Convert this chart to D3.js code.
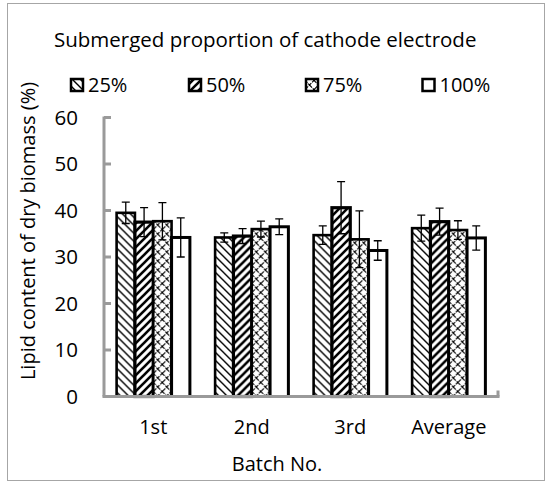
<!DOCTYPE html>
<html>
<head>
<meta charset="utf-8">
<script src="https://cdn.jsdelivr.net/npm/d3@7"></script>
<style>
  body { margin: 0; background: #fff; }
  text { font-family: "Open Sans", sans-serif; fill: #000; }
</style>
</head>
<body>
<div id="chart"></div>
<script>
////////////////////////////////////////////////////////////
//////////////////////// Data //////////////////////////////
////////////////////////////////////////////////////////////

var batches = ["1st", "2nd", "3rd", "Average"];
var proportions = ["25%", "50%", "75%", "100%"];

//Lipid content (%) per proportion, one value per batch
var lipid25 = [39.5, 34.2, 34.7, 36.2],
	lipid50 = [37.5, 34.5, 40.6, 37.6],
	lipid75 = [37.7, 36.0, 33.8, 35.8],
	lipid100 = [34.2, 36.5, 31.4, 34.1];

//Standard deviations
var err25 = [2.3, 1.0, 2.0, 2.8],
	err50 = [3.1, 1.6, 5.6, 2.9],
	err75 = [4.0, 1.7, 6.1, 2.0],
	err100 = [4.2, 1.7, 2.1, 2.6];

var yTicks = [0, 10, 20, 30, 40, 50, 60];

var values = [lipid25, lipid50, lipid75, lipid100],
	errors = [err25, err50, err75, err100];

////////////////////////////////////////////////////////////
//////////////////////// Setup /////////////////////////////
////////////////////////////////////////////////////////////

var width = 550, height = 486;
var plot = {left: 104, right: 498, top: 117.5, bottom: 396.5};
var axisColor = "#9a9a9a";

var svg = d3.select("#chart").append("svg")
	.attr("width", width)
	.attr("height", height);

//Outer frame
svg.append("rect")
	.attr("x", 7.5).attr("y", 3.5)
	.attr("width", 537).attr("height", 477)
	.style("fill", "none")
	.style("stroke", "#a6a6a6")
	.style("stroke-width", 1);

////////////////////////////////////////////////////////////
/////////////////////// Patterns ///////////////////////////
////////////////////////////////////////////////////////////

var defs = svg.append("defs");

//25% - thin backward diagonals
var p1 = defs.append("pattern")
	.attr("id", "pat-25")
	.attr("patternUnits", "userSpaceOnUse")
	.attr("width", 8).attr("height", 8);
p1.append("rect").attr("width", 8).attr("height", 8).style("fill", "#fff");
p1.append("path")
	.attr("d", "M0,0 L8,8 M-4,4 L4,12 M4,-4 L12,4")
	.style("stroke", "#000").style("stroke-width", 1.4);

//50% - thick forward diagonals
var p2 = defs.append("pattern")
	.attr("id", "pat-50")
	.attr("patternUnits", "userSpaceOnUse")
	.attr("width", 8).attr("height", 8);
p2.append("rect").attr("width", 8).attr("height", 8).style("fill", "#fff");
p2.append("path")
	.attr("d", "M0,8 L8,0 M-4,4 L4,-4 M4,12 L12,4")
	.style("stroke", "#000").style("stroke-width", 2.6);

//75% - dotted diamonds
var p3 = defs.append("pattern")
	.attr("id", "pat-75")
	.attr("patternUnits", "userSpaceOnUse")
	.attr("width", 9).attr("height", 9);
p3.append("rect").attr("width", 9).attr("height", 9).style("fill", "#fff");
p3.append("path")
	.attr("d", "M0,4.5 L4.5,0 L9,4.5 L4.5,9 Z")
	.style("fill", "none")
	.style("stroke", "#000").style("stroke-width", 1.1)
	.style("stroke-dasharray", "4.5,1");

var fills = ["url(#pat-25)", "url(#pat-50)", "url(#pat-75)", "#fff"],
	strokeWidths = [2.6, 3.2, 2.6, 3];

////////////////////////////////////////////////////////////
//////////////////////// Scales ////////////////////////////
////////////////////////////////////////////////////////////

var x0 = d3.scaleBand()
	.domain(batches)
	.range([plot.left, plot.right])
	.paddingInner(0.256)
	.paddingOuter(0.128);

var x1 = d3.scaleBand()
	.domain(proportions)
	.range([0, x0.bandwidth()]);

var y = d3.scaleLinear()
	.domain([0, 60])
	.range([plot.bottom, plot.top]);

////////////////////////////////////////////////////////////
//////////////////////// Bars //////////////////////////////
////////////////////////////////////////////////////////////

var barData = [];
batches.forEach(function(b, i) {
	proportions.forEach(function(p, j) {
		barData.push({batch: b, prop: p, s: j, value: values[j][i], err: errors[j][i]});
	});
});

var groups = svg.selectAll(".bar")
	.data(barData)
	.enter().append("g")
	.attr("class", "bar")
	.attr("transform", function(d) { return "translate(" + (x0(d.batch) + x1(d.prop)) + ",0)"; });

groups.append("rect")
	.attr("x", 0)
	.attr("y", function(d) { return y(d.value); })
	.attr("width", x1.bandwidth())
	.attr("height", function(d) { return y(0) - y(d.value); })
	.style("fill", function(d) { return fills[d.s]; })
	.style("stroke", "#000")
	.style("stroke-width", function(d) { return strokeWidths[d.s]; });

//Error bars
var cap = 4;
groups.append("path")
	.attr("d", function(d) {
		var cx = x1.bandwidth() / 2,
			t = y(d.value + d.err),
			b = y(d.value - d.err);
		return "M" + cx + "," + t + "V" + b +
			"M" + (cx - cap) + "," + t + "H" + (cx + cap) +
			"M" + (cx - cap) + "," + b + "H" + (cx + cap);
	})
	.style("fill", "none")
	.style("stroke", "#000")
	.style("stroke-width", 1.3);

////////////////////////////////////////////////////////////
//////////////////////// Axes //////////////////////////////
////////////////////////////////////////////////////////////

//Y axis line and inside ticks
svg.append("line")
	.attr("x1", plot.left).attr("x2", plot.left)
	.attr("y1", y(60) - 1).attr("y2", y(0))
	.style("stroke", axisColor).style("stroke-width", 3);

svg.selectAll(".y-tick")
	.data(yTicks)
	.enter().append("line")
	.attr("class", "y-tick")
	.attr("x1", plot.left).attr("x2", plot.left + 7)
	.attr("y1", function(d) { return y(d); })
	.attr("y2", function(d) { return y(d); })
	.style("stroke", axisColor).style("stroke-width", 3);

svg.selectAll(".y-label")
	.data(yTicks)
	.enter().append("text")
	.attr("class", "y-label")
	.attr("x", 78)
	.attr("y", function(d) { return y(d); })
	.attr("dy", "0.36em")
	.attr("text-anchor", "end")
	.style("font-size", "20.5px")
	.text(function(d) { return d; });

//X axis line
svg.append("line")
	.attr("x1", plot.left - 1.5).attr("x2", plot.right + 1.5)
	.attr("y1", y(0)).attr("y2", y(0))
	.style("stroke", axisColor).style("stroke-width", 3);

svg.append("line")
	.attr("x1", plot.right).attr("x2", plot.right)
	.attr("y1", y(0)).attr("y2", y(0) - 6)
	.style("stroke", axisColor).style("stroke-width", 3);

svg.selectAll(".x-label")
	.data(batches)
	.enter().append("text")
	.attr("class", "x-label")
	.attr("x", function(d) { return x0(d) + x0.bandwidth() / 2; })
	.attr("y", 434)
	.attr("text-anchor", "middle")
	.style("font-size", "20px")
	.text(function(d) { return d; });

//Axis titles
svg.append("text")
	.attr("x", 277)
	.attr("y", 471)
	.attr("text-anchor", "middle")
	.style("font-size", "20px")
	.text("Batch No.");

svg.append("text")
	.attr("transform", "translate(35,231) rotate(-90)")
	.attr("text-anchor", "middle")
	.style("font-size", "20px")
	.text("Lipid content of dry biomass (%)");

////////////////////////////////////////////////////////////
/////////////////////// Legend /////////////////////////////
////////////////////////////////////////////////////////////

svg.append("text")
	.attr("x", 54)
	.attr("y", 47)
	.style("font-size", "20.5px")
	.text("Submerged proportion of cathode electrode");

var legendX = [70, 188, 305, 421.5];

var legend = svg.selectAll(".legend-item")
	.data(proportions)
	.enter().append("g")
	.attr("class", "legend-item")
	.attr("transform", function(d, i) { return "translate(" + legendX[i] + ",85)"; });

legend.append("rect")
	.attr("x", 1).attr("y", -6)
	.attr("width", 12).attr("height", 12)
	.style("fill", function(d, i) { return fills[i]; })
	.style("stroke", "#000")
	.style("stroke-width", 2.5);

legend.append("text")
	.attr("x", 18)
	.attr("dy", "0.36em")
	.style("font-size", "20px")
	.text(function(d) { return d; });
</script>
</body>
</html>
